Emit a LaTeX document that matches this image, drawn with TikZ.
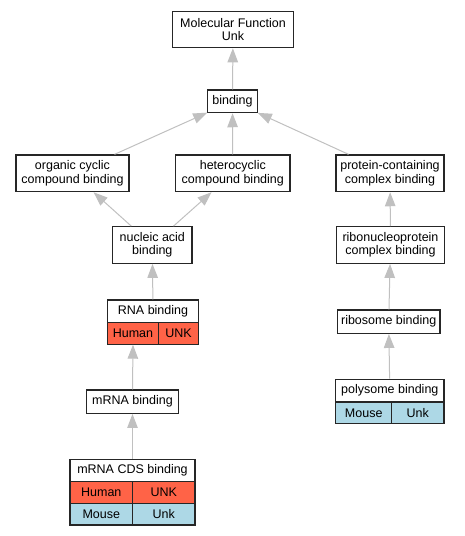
\documentclass[tikz,border=0pt]{standalone}
\usepackage{fontspec}
\setmainfont{Liberation Sans}
\usetikzlibrary{arrows.meta}
\definecolor{human}{HTML}{FF6347}
\definecolor{mouse}{HTML}{ADD8E6}
\definecolor{edgegray}{HTML}{C0C0C0}
\begin{document}
\begin{tikzpicture}[x=1pt,y=-1pt,
  font=\fontsize{12.5}{13.5}\selectfont,
  term/.style={draw=black!85, line width=1.2pt, fill=white, inner sep=0pt, align=center},
  cell/.style={draw=black!85, line width=1.2pt, inner sep=0pt, minimum height=21.6pt},
  isa/.style={draw=edgegray, line width=1pt, -{Triangle[length=14pt,width=10.5pt]}}]
\useasboundingbox (0,0) rectangle (464,536);

\node [term, minimum width=120.6, minimum height=36] (mf) at (233,29.7) {Molecular Function\\Unk};
\node [term, minimum width=49.4, minimum height=22.7] (bind) at (232.5,101.3) {binding};
\node [term, minimum width=113, minimum height=36.7] (ocb) at (72.5,173.3) {organic cyclic\\compound binding};
\node [term, minimum width=114.3, minimum height=36.7] (hcb) at (232.8,173.3) {heterocyclic\\compound binding};
\node [term, minimum width=108, minimum height=36.7] (pcb) at (390,173.3) {protein-containing\\complex binding};
\node [term, minimum width=79.3, minimum height=36.6] (nab) at (152.3,245) {nucleic acid\\binding};
\node [term, minimum width=107.6, minimum height=36.6] (rcb) at (390.5,245) {ribonucleoprotein\\complex binding};

\node [term, minimum width=91, minimum height=22.5] (rna) at (153,311.3) {RNA binding};
\node [cell, fill=human, minimum width=51] (rnaH) at (133,333.3) {Human};
\node [cell, fill=human, minimum width=40] (rnaU) at (178.5,333.3) {UNK};

\node [term, minimum width=102.7, minimum height=23.3] (rib) at (388.7,321.7) {ribosome binding};
\node [term, minimum width=91.6, minimum height=23.3] (mrna) at (132.5,401.7) {mRNA binding};

\node [term, minimum width=108.3, minimum height=22.4] (poly) at (389.8,390.5) {polysome binding};
\node [cell, fill=mouse, minimum width=56] (polyM) at (363.7,412.8) {Mouse};
\node [cell, fill=mouse, minimum width=52.3] (polyU) at (417.8,412.8) {Unk};

\node [term, minimum width=125, minimum height=22.4] (cds) at (132.5,470.5) {mRNA CDS binding};
\node [cell, fill=human, minimum width=62.7] (cdsH) at (101.3,492.5) {Human};
\node [cell, fill=human, minimum width=62.3] (cdsU) at (163.8,492.5) {UNK};
\node [cell, fill=mouse, minimum width=62.7] (cdsM) at (101.3,514.2) {Mouse};
\node [cell, fill=mouse, minimum width=62.3] (cdsK) at (163.8,514.2) {Unk};

\draw [isa] (bind) -- (mf);
\draw [isa] (ocb) -- (bind);
\draw [isa] (hcb) -- (bind);
\draw [isa] (pcb) -- (bind);
\draw [isa] (nab) -- (ocb);
\draw [isa] (nab) -- (hcb);
\draw [isa] (rna) -- (nab);
\draw [isa] (mrna.north) -- (rnaH.south);
\draw [isa] (cds) -- (mrna);
\draw [isa] (rcb) -- (pcb);
\draw [isa] (rib) -- (rcb);
\draw [isa] (poly) -- (rib);

\end{tikzpicture}
\end{document}
